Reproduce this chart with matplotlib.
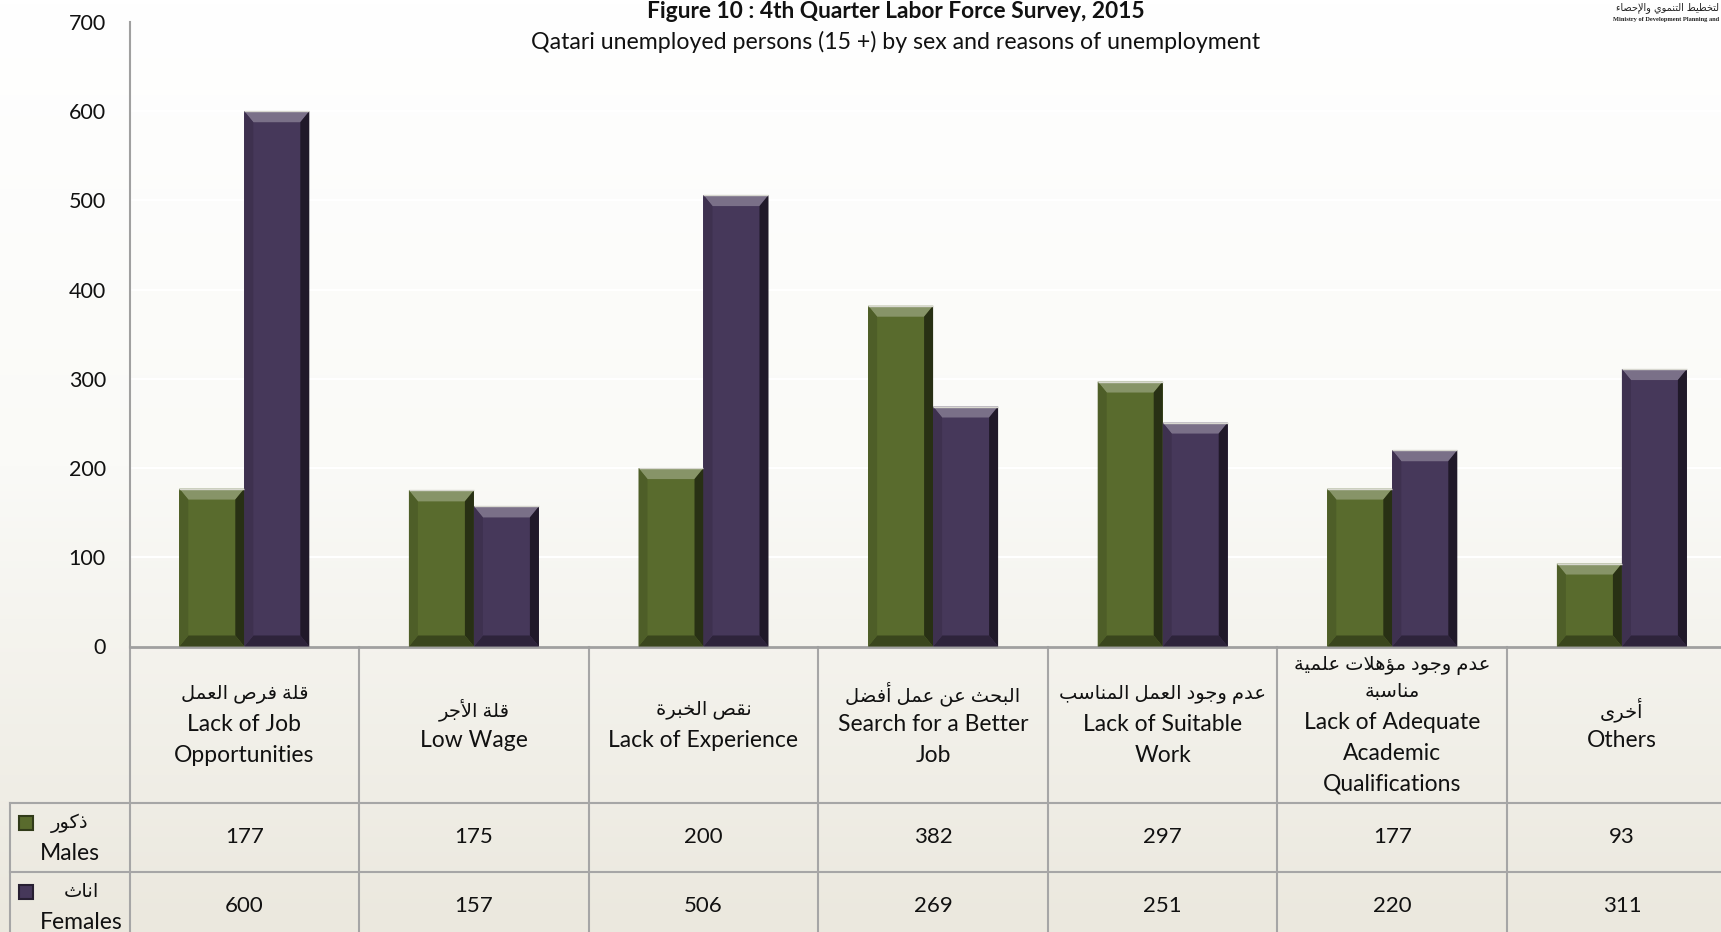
import matplotlib
matplotlib.use("Agg")
import matplotlib.pyplot as plt
import numpy as np
from matplotlib.colors import LinearSegmentedColormap, to_rgb
from matplotlib.patches import Polygon

plt.rcParams["font.family"] = ["Lato", "DejaVu Sans"]

# ---- data -------------------------------------------------------------
cats_ar = ["قلة فرص العمل", "قلة الأجر", "نقص الخبرة", "البحث عن عمل أفضل",
           "عدم وجود العمل المناسب", "عدم وجود مؤهلات علمية\nمناسبة", "أخرى"]
cats_en = ["Lack of Job\nOpportunities", "Low Wage", "Lack of Experience",
           "Search for a Better\nJob", "Lack of Suitable\nWork",
           "Lack of Adequate\nAcademic\nQualifications", "Others"]
males = [177, 175, 200, 382, 297, 177, 93]
females = [600, 157, 506, 269, 251, 220, 311]
series_ar = ["ذكور", "اناث"]
series_en = ["Males", "Females"]
yticks = [0, 100, 200, 300, 400, 500, 600, 700]

title = "Figure 10 : 4th Quarter Labor Force Survey, 2015"
subtitle = "Qatari unemployed persons (15 +) by sex and reasons of unemployment"
logo_ar = "لتخطيط التنموي والإحصاء"          # visible part of the (cropped) logo
logo_en = "Ministry of Development Planning and"

GREEN = "#596b2d"
PURPLE = "#46385a"

# ---- minimal Arabic shaping (matplotlib has no bidi/shaping) -----------
AR_LETTERS = "ءآأؤإئابةتثجحخدذرزسشصضطظعغفقكلمنهوىي"
AR_NFORMS = [1, 2, 2, 2, 2, 4, 2, 4, 2, 4, 4, 4, 4, 4, 2, 2, 2, 2,
             4, 4, 4, 4, 4, 4, 4, 4, 4, 4, 4, 4, 4, 4, 4, 2, 2, 4]
AR_BASE = {}
_code = 0xFE80
for _ch, _n in zip(AR_LETTERS, AR_NFORMS):
    AR_BASE[_ch] = (_code, _n)
    _code += _n
LAM_ALEF = {"آ": 0xFEF5, "أ": 0xFEF7, "إ": 0xFEF9, "ا": 0xFEFB}


def ar(s):
    out = []
    i = 0
    while i < len(s):
        ch = s[i]
        if ch not in AR_BASE:
            out.append(ch)
            i += 1
            continue
        prev = s[i - 1] if i > 0 else ""
        nxt = s[i + 1] if i + 1 < len(s) else ""
        base, n = AR_BASE[ch]
        jp = prev in AR_BASE and AR_BASE[prev][1] == 4 and n > 1
        if ch == "ل" and nxt in LAM_ALEF:
            out.append(chr(LAM_ALEF[nxt] + (1 if jp else 0)))
            i += 2
            continue
        jn = n == 4 and nxt in AR_BASE and AR_BASE[nxt][1] > 1
        form = 3 if (jp and jn) else 1 if jp else 2 if jn else 0
        out.append(chr(base + form))
        i += 1
    return "".join(reversed(out))


def mix(c, other, t):
    c, o = np.array(to_rgb(c)), np.array(to_rgb(other))
    return tuple(c * (1 - t) + o * t)


# ---- figure -------------------------------------------------------------
W, H = 1721, 932
fig = plt.figure(figsize=(W / 100, H / 100), dpi=100)

bg = fig.add_axes([0, 0, 1, 1], zorder=-5)
grad = np.linspace(0, 1, 256).reshape(-1, 1)
bg.imshow(grad, aspect="auto", extent=[0, 1, 0, 1], origin="upper",
          cmap=LinearSegmentedColormap.from_list("bg", ["#ffffff", "#fafaf7", "#ebe8de"]))
bg.set_axis_off()

# plot area in pixels
X0, Y0, CW, PH = 129.5, 646.5, 229.6, 624.5
n = len(males)
ax = fig.add_axes([X0 / W, (H - Y0) / H, n * CW / W, PH / H])
ax.patch.set_alpha(0)
ax.set_xlim(-0.5, n - 0.5)
ax.set_ylim(0, 700)
PX = 1 / CW            # category units per pixel
PYD = 700 / PH         # data units per pixel
PYA = 1 / PH           # axes fraction per pixel

for t in yticks[1:-1]:
    ax.axhline(t, color="white", lw=1.6, zorder=0)

x = np.arange(n)
bw = 65 * PX
bars_m = ax.bar(x - bw / 2, males, bw, color=GREEN, zorder=2)
bars_f = ax.bar(x + bw / 2, females, bw, color=PURPLE, zorder=2)


def bevel(rect, color):
    x0, w, h = rect.get_x(), rect.get_width(), rect.get_height()
    x1 = x0 + w
    bx, by = 9 * PX, 11 * PYD
    polys = [
        ([(x0, h), (x1, h), (x1 - bx, h - by), (x0 + bx, h - by)], mix(color, "white", 0.28)),
        ([(x1, h), (x1, 0), (x1 - bx, by), (x1 - bx, h - by)], mix(color, "black", 0.55)),
        ([(x0, 0), (x1, 0), (x1 - bx, by), (x0 + bx, by)], mix(color, "black", 0.35)),
        ([(x0, h), (x0, 0), (x0 + bx, by), (x0 + bx, h - by)], mix(color, "black", 0.12)),
    ]
    for pts, c in polys:
        ax.add_patch(Polygon(pts, closed=True, facecolor=c, edgecolor="none", zorder=3))
    ax.add_patch(Polygon([(x0, h), (x1, h)], closed=False, edgecolor="#d8d8d0",
                         lw=1.0, fill=False, zorder=4))


for r in bars_m:
    bevel(r, GREEN)
for r in bars_f:
    bevel(r, PURPLE)

# axes styling
for s in ["top", "right"]:
    ax.spines[s].set_visible(False)
ax.spines["left"].set_color("#a0a0a0")
ax.spines["left"].set_linewidth(1.5)
ax.spines["bottom"].set_color("#a0a0a0")
ax.spines["bottom"].set_linewidth(2)
ax.set_xticks([])
ax.set_yticks(yticks)
ax.tick_params(axis="y", length=0, pad=17, labelsize=15.5, labelcolor="#111111")

# ---- data table under the chart -----------------------------------------
tr = ax.get_xaxis_transform()
line_kw = dict(color="#a6a6a6", lw=1.5, clip_on=False, transform=tr, zorder=1)
hdr_bot = -156.5 * PYA
row_h = 68.5 * PYA
row_bots = [hdr_bot - row_h, hdr_bot - 2 * row_h]
tbl_left = -0.5 - (X0 - 10) * PX

for xb in np.arange(n + 1) - 0.5:
    ax.plot([xb, xb], [0, row_bots[-1]], **line_kw)
ax.plot([tbl_left, tbl_left], [hdr_bot, row_bots[-1]], **line_kw)
for yb in [hdr_bot] + row_bots:
    ax.plot([tbl_left, n - 0.5], [yb, yb], **line_kw)

AR_SIZE, EN_SIZE = 14, 16.5
AR_GAP, EN_GAP = 26.3 * PYA, 30.7 * PYA


def stacked(xc, yc, ar_text, en_text, ha="center"):
    """Arabic line(s) above English line(s), block centred on yc."""
    lines = [(ar(s), AR_SIZE) for s in ar_text.split("\n")] + \
            [(s, EN_SIZE) for s in en_text.split("\n")]
    gaps = [AR_GAP if (a[1] == AR_SIZE and b[1] == AR_SIZE) else EN_GAP
            for a, b in zip(lines[:-1], lines[1:])]
    ys = np.concatenate([[0], -np.cumsum(gaps)])
    ys = ys - (ys[0] + ys[-1]) / 2 + yc
    for (txt, fs), yy in zip(lines, ys):
        ax.text(xc, yy, txt, transform=tr, ha=ha, va="center",
                fontsize=fs, color="#111111", clip_on=False)


for i in range(n):
    stacked(x[i], hdr_bot / 2, cats_ar[i], cats_en[i])

row_tops = [hdr_bot, hdr_bot - row_h]
for vals, top in zip([males, females], row_tops):
    for i in range(n):
        ax.text(x[i], top - row_h / 2, str(vals[i]), transform=tr,
                ha="center", va="center", fontsize=16, color="#111111")

for j, (lab_ar, lab_en, col) in enumerate(zip(series_ar, series_en, [GREEN, PURPLE])):
    top = row_tops[j]
    ax.plot([tbl_left + 15.5 * PX], [top - 20 * PYA], marker="s", ms=10.5,
            mfc=col, mec=mix(col, "black", 0.45), mew=1.5, transform=tr,
            clip_on=False, zorder=3)
    # centre of the English word defines the column of both lines
    en_w = {"Males": 60, "Females": 82}[lab_en]
    xc = tbl_left + (30 + en_w / 2) * PX
    stacked(xc, top - row_h / 2 - 1 * PYA, lab_ar, lab_en)

# ---- titles & logo ---------------------------------------------------------
fig.text(896 / W, 1 - 12 / H, title, ha="center", va="center",
         fontsize=16.4, fontweight="bold", color="#111111")
fig.text(896 / W, 1 - 42 / H, subtitle, ha="center", va="center",
         fontsize=16.7, color="#111111")
fig.text(1719 / W, 1 - 8 / H, ar(logo_ar), ha="right", va="center",
         fontsize=7, color="#222222", family=["DejaVu Sans"])
fig.text(1719 / W, 1 - 19 / H, logo_en, ha="right", va="center",
         fontsize=4.6, fontweight="bold", color="#222222", family=["Liberation Serif"])

fig.savefig("out.png", dpi=100)
